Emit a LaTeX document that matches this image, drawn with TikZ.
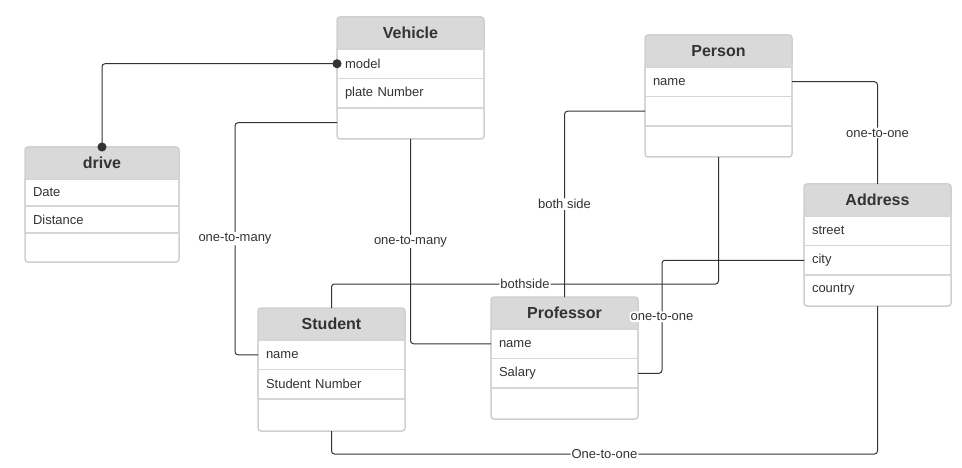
\documentclass[tikz,border=0pt]{standalone}
\usepackage{fontspec}
\setmainfont{Liberation Sans}
\usetikzlibrary{positioning}
\usetikzlibrary{arrows.meta}

\definecolor{txt}{HTML}{333333}
\definecolor{headfill}{HTML}{D9D9D9}
\definecolor{boxline}{HTML}{CDD0D3}
\definecolor{rowline}{HTML}{D6D6D6}
\definecolor{linkc}{HTML}{333333}

\tikzset{
  entbox/.style={draw=boxline, line width=1.5pt, fill=white, rounded corners=3pt, anchor=north west,
    minimum width=147pt, inner sep=0pt, outer sep=0pt,
    path picture={\fill[headfill] (path picture bounding box.north west)
      rectangle ([yshift=-31.5pt]path picture bounding box.north east);}},
  enttitle/.style={minimum width=147pt, minimum height=31.5pt, inner sep=0pt, outer sep=0pt,
    text=txt, font=\fontsize{16}{19}\selectfont\bfseries, yshift=-0.5pt},
  attr/.style={draw=rowline, line width=1.2pt, minimum width=147pt, text width=131pt,
    minimum height=29.5pt, inner xsep=8pt, inner ysep=0pt, outer sep=0pt, align=left,
    text=txt, font=\fontsize{13}{15}\selectfont},
  lastattr/.style={attr, draw=none},
  relline/.style={draw=linkc, line width=1pt, rounded corners=3pt},
  lbl/.style={fill=white, text=txt, inner sep=1pt, font=\fontsize{13}{15}\selectfont}
}

\begin{document}
\begin{tikzpicture}[x=1pt, y=-1pt]

    \useasboundingbox (0,0) rectangle (962,468);

    % Vehicle
    \node[entbox, minimum height=122pt] (veh) at (337,17) {};
    \node[enttitle, below=0pt of veh.north] (veh-t) {Vehicle};
    \node[attr, below=0pt of veh-t] (veh-model) {model};
    \node[attr, below=0pt of veh-model] (veh-plate) {plate Number};
    \node[lastattr, below=0pt of veh-plate] (veh-e) {};

    % drive
    \node[entbox, minimum width=154pt, minimum height=115pt] (drv) at (25,147) {};
    \node[enttitle, minimum width=154pt, below=0pt of drv.north] (drv-t) {drive};
    \node[attr, minimum width=154pt, text width=138pt, minimum height=27pt,
        below=0pt of drv-t] (drv-date) {Date};
    \node[attr, minimum width=154pt, text width=138pt, minimum height=27pt,
        below=0pt of drv-date] (drv-dist) {Distance};

    % Person
    \node[entbox, minimum height=122pt] (per) at (645,35) {};
    \node[enttitle, below=0pt of per.north] (per-t) {Person};
    \node[attr, below=0pt of per-t] (per-name) {name};
    \node[attr, below=0pt of per-name] (per-2) {};
    \node[lastattr, below=0pt of per-2] (per-e) {};

    % Address
    \node[entbox, minimum height=122pt] (adr) at (804,184) {};
    \node[enttitle, below=0pt of adr.north] (adr-t) {Address};
    \node[attr, below=0pt of adr-t] (adr-street) {street};
    \node[attr, below=0pt of adr-street] (adr-city) {city};
    \node[lastattr, below=0pt of adr-city] (adr-country) {country};

    % Student
    \node[entbox, minimum height=123pt] (stu) at (258,308) {};
    \node[enttitle, below=0pt of stu.north] (stu-t) {Student};
    \node[attr, below=0pt of stu-t] (stu-name) {name};
    \node[attr, below=0pt of stu-name] (stu-num) {Student Number};
    \node[lastattr, below=0pt of stu-num] (stu-e) {};

    % Professor
    \node[entbox, minimum height=122pt] (prof) at (491,297) {};
    \node[enttitle, below=0pt of prof.north] (prof-t) {Professor};
    \node[attr, below=0pt of prof-t] (prof-name) {name};
    \node[attr, below=0pt of prof-name] (prof-sal) {Salary};
    \node[lastattr, below=0pt of prof-sal] (prof-e) {};

    % Relations
    \draw[relline, {Circle[length=9pt]}-{Circle[length=9pt]},
        shorten <=-4.5pt, shorten >=-4.5pt] (veh-model.west) -| (drv.north);
    \draw[relline] (veh-e.west) -- ++(-102,0)
        |- node[lbl, pos=0.25]{one-to-many} (stu-name.west);
    \draw[relline] (veh.south) |- node[lbl, pos=0.25]{one-to-many} (prof-name.west);
    \draw[relline] (per-2.west) -| node[lbl, pos=0.75]{both side} (prof.north);
    \draw[relline] (per.south) -- ++(0,127)
        -| node[lbl, pos=0.25]{bothside} (stu.north);
    \draw[relline] (per-name.east) -| node[lbl, pos=0.75]{one-to-one} (adr.north);
    \draw[relline] (adr-city.west) -- ++(-142,0)
        |- node[lbl, pos=0.25]{one-to-one} (prof-sal.east);
    \draw[relline] (adr.south) -- ++(0,148)
        -| node[lbl, pos=0.25]{One-to-one} (stu.south);

\end{tikzpicture}
\end{document}
